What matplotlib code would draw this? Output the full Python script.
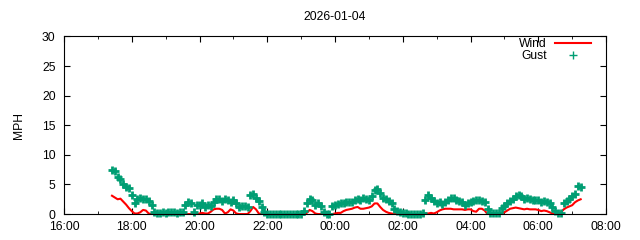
import pandas as pd
import matplotlib
matplotlib.use("Agg")
from matplotlib import pyplot as plt
import matplotlib.dates as mdates

plt.rcParams['font.family'] = ['Liberation Sans', 'DejaVu Sans']

# readings every 5 minutes, 17:25 -> 07:15
start = "2026-01-03 17:25"
wind = [3.1, 2.8, 2.5, 2.6, 2.1, 1.6, 1.0,
        0.5, 0.1, 0.1, 0.3, 0.7, 0.6, 0.1, 0.0, 0.0, 0.0, 0.0, 0.0,
        0.0, 0.0, 0.0, 0.0, 0.0, 0.0, 0.0, 0.0, 0.0, 0.0, 0.0, 0.0,
        0.1, 0.2, 0.1, 0.1, 0.4, 0.8, 0.9, 0.9, 0.7, 0.1, 0.3, 0.8,
        0.6, 0.1, 0.0, 0.0, 0.0, 0.0, 0.5, 1.2, 0.8, 0.1, 0.0, 0.0,
        0.0, 0.0, 0.0, 0.0, 0.0, 0.0, 0.0, 0.0, 0.0, 0.0, 0.0, 0.0,
        0.0, 0.0, 0.2, 0.7, 0.5, 0.1, 0.0, 0.0, 0.0, 0.0, 0.0, 0.0,
        0.1, 0.2, 0.2, 0.5, 0.7, 0.8, 0.9, 1.1, 1.2, 0.9, 0.9, 1.0,
        1.1, 1.3, 1.8, 1.8, 1.2, 0.7, 0.4, 0.2, 0.1, 0.0, 0.0, 0.0,
        0.0, 0.0, 0.0, 0.0, 0.0, 0.0, 0.0, 0.0, 0.1, 0.1, 0.2, 0.1,
        0.3, 0.6, 0.8, 0.9, 0.9, 0.9, 0.8, 0.8, 0.8, 0.8, 0.7, 0.8,
        0.8, 0.5, 0.4, 0.9, 0.9, 0.6, 0.0, 0.0, 0.0, 0.0, 0.0, 0.1,
        0.3, 0.6, 0.9, 1.0, 1.1, 1.0, 0.9, 0.8, 0.9, 0.8, 0.8, 0.8,
        0.7, 0.5, 0.6, 0.5, 0.3, 0.1, 0.0, 0.0, 0.3, 0.8, 1.1, 1.3,
        1.5, 2.0, 2.3, 2.5]
gust = [7.5, 7.2, 6.3, 6.0, 5.1, 4.6, 4.4,
        3.2, 1.8, 2.5, 2.8, 2.6, 2.5, 2.2, 1.5, 0.3, 0.2, 0.2, 0.3,
        0.2, 0.4, 0.3, 0.3, 0.2, 0.4, 0.3, 1.5, 2.0, 1.8, 0.3, 1.6,
        1.5, 1.8, 1.2, 1.6, 1.3, 2.0, 2.5, 2.6, 2.2, 2.5, 2.3, 2.0,
        2.4, 1.8, 1.2, 1.3, 1.4, 1.2, 3.3, 3.4, 2.8, 2.2, 1.2, 0.3,
        0.0, 0.0, 0.0, 0.0, 0.0, 0.0, 0.0, 0.0, 0.0, 0.0, 0.0, 0.0,
        0.0, 0.5, 1.8, 2.6, 2.4, 1.6, 1.8, 1.4, 0.3, 0.0, 0.0, 1.4,
        1.6, 1.7, 1.8, 1.8, 2.0, 2.1, 2.0, 2.3, 2.5, 2.4, 2.8, 2.6,
        2.4, 3.0, 4.0, 4.2, 3.6, 2.8, 2.6, 2.2, 1.8, 0.8, 0.6, 0.3,
        0.2, 0.1, 0.0, 0.0, 0.0, 0.0, 0.0, 0.1, 2.4, 3.3, 2.7, 2.2,
        1.8, 2.0, 1.7, 2.0, 2.4, 2.8, 2.8, 2.4, 2.2, 2.0, 1.6, 1.8,
        2.0, 2.2, 2.4, 2.4, 2.2, 2.0, 0.8, 0.2, 0.1, 0.1, 0.2, 1.0,
        1.4, 1.8, 2.2, 2.6, 3.0, 3.2, 3.0, 2.6, 2.8, 2.6, 2.4, 2.3,
        2.4, 2.1, 2.2, 2.0, 1.8, 1.2, 0.6, 0.1, 0.2, 1.8, 2.2, 2.6,
        3.0, 3.4, 4.8, 4.6]

times = pd.date_range(start, periods=len(wind), freq="5min")

fig = plt.figure(figsize=(6.4, 2.4), dpi=100)
ax = fig.add_axes([0.1, 0.108, 0.847, 0.74])

ax.plot(times, wind, color="#ff0000", lw=1.5, label="Wind")
ax.plot(times, gust, ls="none", marker="+", ms=6, mew=2.0,
        color="#009e73", label="Gust", clip_on=False)

ax.set_xlim(pd.Timestamp("2026-01-03 16:00"), pd.Timestamp("2026-01-04 08:00"))
ax.set_ylim(0, 30)
ax.set_yticks(range(0, 31, 5))
ax.xaxis.set_major_locator(mdates.HourLocator(interval=2))
ax.xaxis.set_minor_locator(mdates.HourLocator())
ax.xaxis.set_major_formatter(mdates.DateFormatter("%H:%M"))
ax.tick_params(which="both", direction="in", top=True, right=True,
               labelsize=8.7, colors="black")
ax.tick_params(which="major", length=4)
ax.tick_params(which="minor", length=2)
ax.tick_params(axis="x", which="major", pad=5)
ax.tick_params(axis="y", which="major", pad=6)
ax.set_ylabel("MPH", fontsize=8.7)
ax.yaxis.set_label_coords(-0.072, 0.5)
ax.set_title("2026-01-04", fontsize=8.7, pad=12)

leg = ax.legend(loc="upper right", frameon=False, markerfirst=False, fontsize=8.7,
                handlelength=3.0, handletextpad=0.7, labelspacing=0.05,
                borderaxespad=0.0, bbox_to_anchor=(0.982, 1.02))
leg.legend_handles[1].set_markeredgewidth(1.0)

fig.savefig("out.png", dpi=100)
